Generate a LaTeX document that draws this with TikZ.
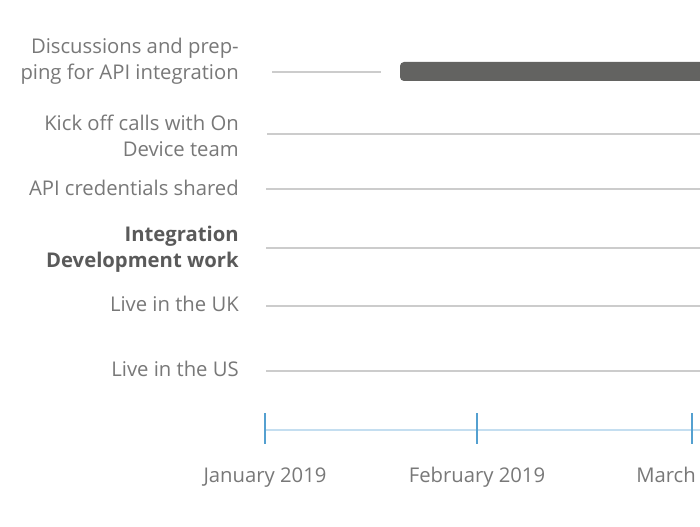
\documentclass[tikz,border=0pt]{standalone}
\usepackage{fontspec}
\setmainfont{Open Sans}
\definecolor{tickc}{RGB}{84,160,208}
\definecolor{axisc}{RGB}{196,222,240}
\definecolor{txtc}{RGB}{120,120,120}
\definecolor{btxtc}{RGB}{90,90,90}
\definecolor{barc}{RGB}{99,99,97}
\definecolor{gridc}{RGB}{204,204,204}
\begin{document}
\begin{tikzpicture}[x=0.75pt,y=-0.75pt,
  lbl/.style={anchor=east,align=right,text=txtc,font=\fontsize{15.2}{19.5}\selectfont,inner sep=0pt},
  blbl/.style={lbl,text=btxtc,font=\fontsize{15.2}{19.5}\selectfont\bfseries},
  grid/.style={draw=gridc,line width=1pt},
  tick/.style={draw=tickc,line width=1.3pt},
  axis/.style={draw=axisc,line width=1pt},
  datelbl/.style={text=txtc,font=\fontsize{15.2}{19.5}\selectfont,inner sep=0pt}]
\useasboundingbox (0,0) rectangle (700,527);
\clip (0,0) rectangle (700,527);
\fill[white] (0,0) rectangle (700,527);
% labels
\node[lbl] (l1) at (239,61) {Discussions and prep-\\ping for API integration};
\node[lbl] (l2) at (239,136) {Kick off calls with On\\Device team};
\node[lbl] (l3) at (239,188) {API credentials shared};
\node[blbl] (l4) at (239,249) {Integration\\Development work};
\node[lbl] (l5) at (239,304) {Live in the UK};
\node[lbl] (l6) at (239,369) {Live in the US};
% grid lines
\coordinate (g1a) at (272,72); \coordinate (g1b) at (381,72);
\coordinate (g2a) at (267,134); \coordinate (g2b) at (700,134);
\coordinate (g3a) at (266,189); \coordinate (g3b) at (700,189);
\coordinate (g4a) at (266,248); \coordinate (g4b) at (700,248);
\coordinate (g5a) at (266,306); \coordinate (g5b) at (700,306);
\coordinate (g6a) at (266,371); \coordinate (g6b) at (700,371);
\draw[grid] (g1a) -- (g1b);
\draw[grid] (g2a) -- (g2b);
\draw[grid] (g3a) -- (g3b);
\draw[grid] (g4a) -- (g4b);
\draw[grid] (g5a) -- (g5b);
\draw[grid] (g6a) -- (g6b);
% bar
\fill[fill=barc,rounded corners=3pt] (400,62) rectangle (720,81);
% axis
\coordinate (ax0) at (265,430); \coordinate (ax1) at (700,430);
\draw[axis] (ax0) -- (ax1);
\draw[tick] (265,413) -- (265,444);
\draw[tick] (477,413) -- (477,444);
\draw[tick] (692,413) -- (692,444);
\node[datelbl,anchor=base] (d1) at (265,482) {January 2019};
\node[datelbl,anchor=base] (d2) at (477,482) {February 2019};
\node[datelbl,anchor=base west] (d3) at (636,482) {March};
\end{tikzpicture}
\end{document}
